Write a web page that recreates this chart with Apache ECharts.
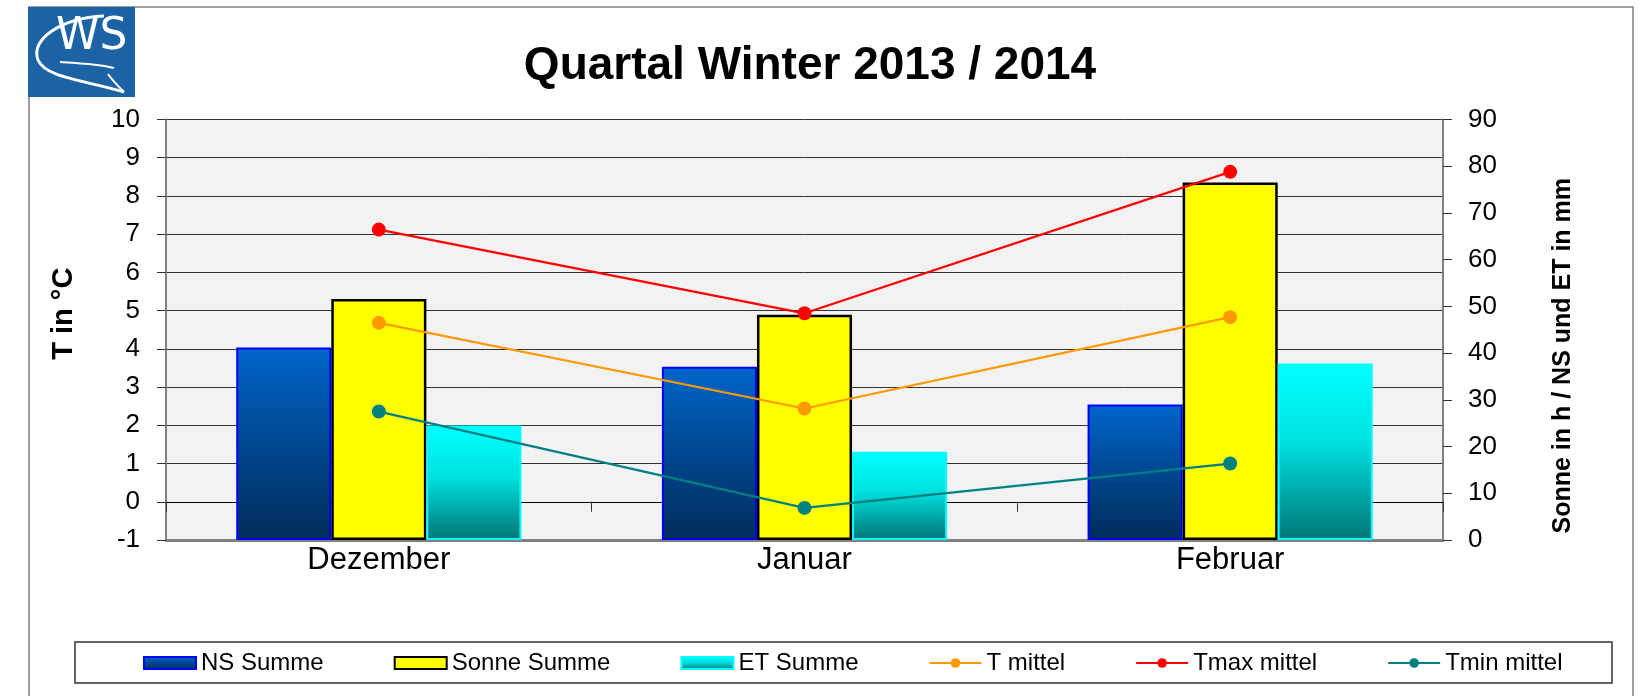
<!DOCTYPE html>
<html>
<head>
<meta charset="utf-8">
<title>Quartal Winter 2013 / 2014</title>
<script src="https://cdn.jsdelivr.net/npm/echarts@6/dist/echarts.min.js"></script>
<style>
	html,body{margin:0;padding:0;background:#fff;}
	#chart{width:1642px;height:696px;}
</style>
</head>
<body>
<div id="chart"></div>
<script>
	var monate = ['Dezember', 'Januar', 'Februar'];
	// Balken -> rechte Achse (h / mm)
	var nsSumme = [41.2, 37.1, 29.0];
	var sonneSumme = [51.6, 48.2, 76.5];
	var etSumme = [24.5, 18.9, 37.8];
	// Temperaturen -> linke Achse (°C)
	var tMittel = [4.68, 2.44, 4.83];
	var tMax = [7.12, 4.93, 8.63];
	var tMin = [2.36, -0.16, 1.0];

	var schrift = 'Liberation Sans, Arial, sans-serif';

	function verlauf(oben, mitte, unten){
		return new echarts.graphic.LinearGradient(0, 0, 0, 1, [
			{offset: 0, color: oben},
			{offset: 0.45, color: mitte},
			{offset: 1, color: unten}
		]);
	}

	function linie(name, daten, farbe){
		return {
			name: name,
			type: 'line',
			yAxisIndex: 0,
			data: daten,
			symbol: 'circle',
			symbolSize: 14,
			z: 5,
			lineStyle: {color: farbe, width: 2.2},
			itemStyle: {color: farbe}
		};
	}

	var myChart = echarts.init(document.getElementById('chart'));

	var option = {
		backgroundColor: '#fff',
		animation: false,
		textStyle: {fontFamily: schrift},
		title: {
			text: 'Quartal Winter 2013 / 2014',
			left: 805,
			textAlign: 'center',
			top: 38,
			textStyle: {fontSize: 46, fontWeight: 'bold', color: '#000', fontFamily: schrift}
		},
		legend: {
			left: 143,
			top: 651,
			padding: 0,
			itemGap: 70,
			itemWidth: 52,
			itemHeight: 12,
			textStyle: {fontSize: 24, color: '#000', fontFamily: schrift},
			data: [
				{name: 'NS Summe', icon: 'rect'},
				{name: 'Sonne Summe', icon: 'rect'},
				{name: 'ET Summe', icon: 'rect'},
				'T mittel', 'Tmax mittel', 'Tmin mittel'
			]
		},
		grid: {
			left: 166, right: 199, top: 119.5, bottom: 156,
			show: true, backgroundColor: '#f2f2f2', borderWidth: 0
		},
		xAxis: [{
			type: 'category',
			data: monate,
			position: 'bottom',
			axisLine: {onZero: false, lineStyle: {color: '#808080', width: 3}},
			axisTick: {show: false},
			axisLabel: {fontSize: 31, color: '#000', margin: 5, fontFamily: schrift}
		}, {
			// Excel-Kategorieachse liegt bei 0 °C
			type: 'category',
			data: monate,
			position: 'bottom',
			axisLine: {onZero: true, onZeroAxisIndex: 0, lineStyle: {color: '#000', width: 1}},
			axisTick: {show: true, length: 10, lineStyle: {color: '#333'}},
			axisLabel: {show: false}
		}],
		yAxis: [{
			type: 'value',
			min: -1, max: 10, interval: 1,
			name: 'T in °C',
			nameLocation: 'middle',
			nameRotate: 90,
			nameGap: 88,
			nameTextStyle: {fontSize: 29, fontWeight: 'bold', color: '#000', padding: [0, 0, 0, 32]},
			axisLine: {show: true, lineStyle: {color: '#808080', width: 2}},
			axisTick: {show: true, length: 9, lineStyle: {color: '#333'}},
			axisLabel: {fontSize: 26, color: '#000', margin: 26},
			splitLine: {lineStyle: {color: '#333', width: 1}}
		}, {
			type: 'value',
			position: 'right',
			min: 0, max: 90, interval: 10,
			name: 'Sonne in h / NS und ET in mm',
			nameLocation: 'middle',
			nameRotate: 90,
			nameGap: 108,
			nameTextStyle: {fontSize: 25, fontWeight: 'bold', color: '#000', padding: [0, 52, 0, 0]},
			axisLine: {show: true, lineStyle: {color: '#808080', width: 2}},
			axisTick: {show: true, length: 9, lineStyle: {color: '#333'}},
			axisLabel: {fontSize: 26, color: '#000', margin: 25},
			splitLine: {show: false}
		}],
		series: [{
			name: 'NS Summe',
			type: 'bar',
			yAxisIndex: 1,
			data: nsSumme,
			barGap: '0%',
			barCategoryGap: '33%',
			itemStyle: {color: verlauf('#0066cc', '#004a96', '#002c5a'), borderColor: '#0000ff', borderWidth: 2}
		}, {
			name: 'Sonne Summe',
			type: 'bar',
			yAxisIndex: 1,
			data: sonneSumme,
			itemStyle: {color: '#ffff00', borderColor: '#000', borderWidth: 2.5}
		}, {
			name: 'ET Summe',
			type: 'bar',
			yAxisIndex: 1,
			data: etSumme,
			itemStyle: {color: verlauf('#00ffff', '#00e0e0', '#007575'), borderColor: '#00ffff', borderWidth: 2}
		},
			linie('T mittel', tMittel, '#ff9900'),
			linie('Tmax mittel', tMax, '#ff0000'),
			linie('Tmin mittel', tMin, '#008080')
		],
		graphic: [
			// Rahmen
			{type: 'rect', z: -1, shape: {x: 29, y: 7, width: 1604, height: 700}, style: {fill: 'none', stroke: '#7f7f7f', lineWidth: 1.5}},
			// Legendenrahmen
			{type: 'rect', z: -1, shape: {x: 75, y: 642, width: 1537, height: 41}, style: {fill: '#fff', stroke: '#333', lineWidth: 1.5}},
			// Logo
			{type: 'rect', shape: {x: 28, y: 7, width: 107, height: 90}, style: {fill: '#1b63a5'}},
			{type: 'bezierCurve', shape: {x1: 104, y1: 16, cpx1: 60, cpy1: 18, cpx2: 30, cpy2: 40, x2: 38, y2: 60}, style: {fill: 'none', stroke: '#fff', lineWidth: 3}},
			{type: 'bezierCurve', shape: {x1: 38, y1: 60, cpx1: 46, cpy1: 78, cpx2: 84, cpy2: 80, x2: 124, y2: 92}, style: {fill: 'none', stroke: '#fff', lineWidth: 3}},
			{type: 'bezierCurve', shape: {x1: 124, y1: 92, cpx1: 118, cpy1: 86, cpx2: 112, cpy2: 80, x2: 108, y2: 74}, style: {fill: 'none', stroke: '#fff', lineWidth: 2}},
			{type: 'bezierCurve', shape: {x1: 60, y1: 62, cpx1: 78, cpy1: 63, cpx2: 100, cpy2: 64, x2: 114, y2: 68}, style: {fill: 'none', stroke: '#fff', lineWidth: 2}},
			{type: 'text', style: {x: 56, y: 16, text: 'WS', fill: '#fff', font: '44px "DejaVu Sans", sans-serif'}}
		]
	};

	myChart.setOption(option);
</script>
</body>
</html>
